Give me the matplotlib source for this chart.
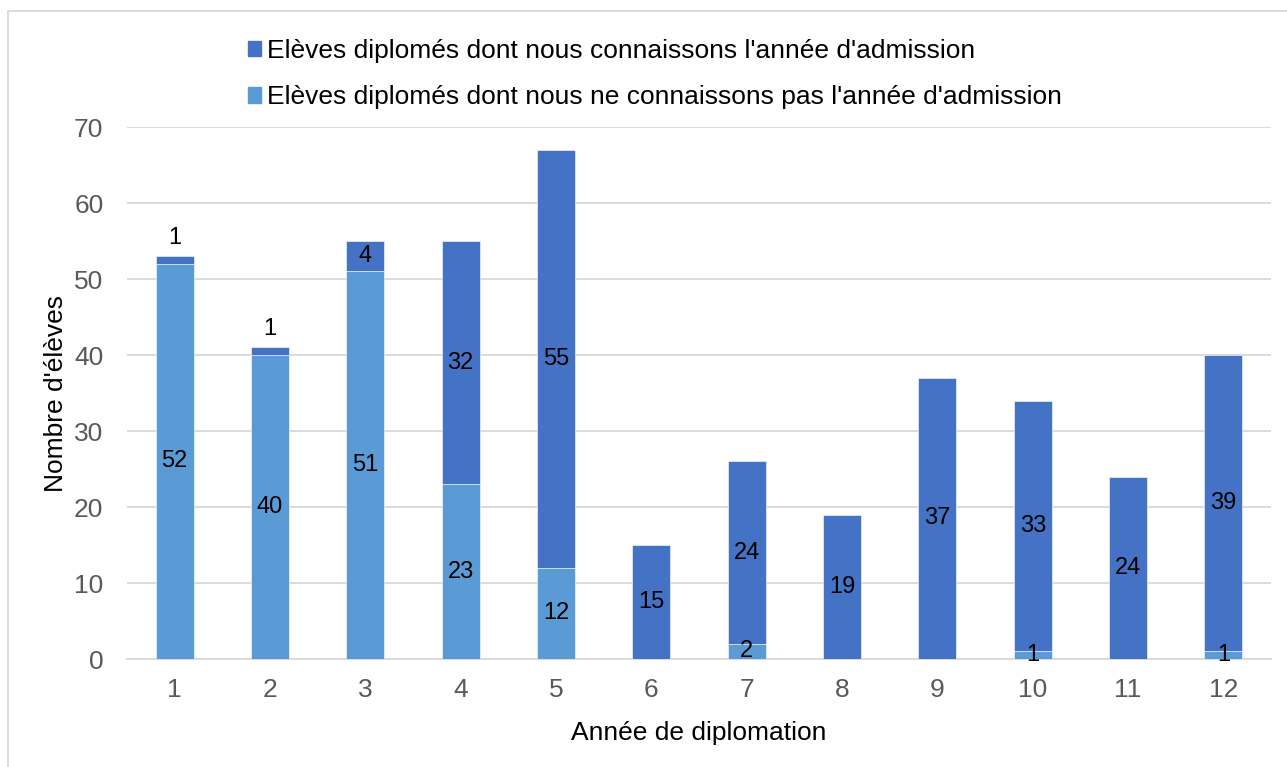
import matplotlib
matplotlib.use("Agg")
import matplotlib.pyplot as plt
from matplotlib.patches import Patch, Rectangle
import numpy as np

# Données
annees = ["1", "2", "3", "4", "5", "6", "7", "8", "9", "10", "11", "12"]
inconnus = [52, 40, 51, 23, 12, 0, 2, 0, 0, 1, 0, 1]      # année d'admission inconnue
connus = [1, 1, 4, 32, 55, 15, 24, 19, 37, 33, 24, 39]     # année d'admission connue
lbl_connus = "Elèves diplomés dont nous connaissons l'année d'admission"
lbl_inconnus = "Elèves diplomés dont nous ne connaissons pas l'année d'admission"

plt.rcParams['font.family'] = ['Liberation Sans', 'DejaVu Sans']

c_clair = '#5B9BD5'
c_fonce = '#4472C4'
fs = 19

fig = plt.figure(figsize=(12.87, 7.67), dpi=100)
ax = fig.add_axes([0.0987, 0.1408, 0.8889, 0.6936])

x = np.arange(len(annees))
ax.bar(x, inconnus, width=0.4, color=c_clair, edgecolor='white', linewidth=0.4, zorder=3)
ax.bar(x, connus, width=0.4, bottom=inconnus, color=c_fonce, edgecolor='white', linewidth=0.4, zorder=3)

# Étiquettes de données
for i in range(len(annees)):
    if inconnus[i] > 0:
        ax.text(x[i], inconnus[i] / 2, str(inconnus[i]), ha='center', va='center',
                fontsize=17, color='black', zorder=4)
    if connus[i] > 0:
        if connus[i] < 2:
            # étiquette déplacée au-dessus de la barre
            y = inconnus[i] + connus[i] + 2.4
        else:
            y = inconnus[i] + connus[i] / 2
        ax.text(x[i], y, str(connus[i]), ha='center', va='center',
                fontsize=17, color='black', zorder=4)

ax.set_xlim(-0.5, len(annees) - 0.5)
ax.set_ylim(0, 70)
ax.set_yticks(np.arange(0, 71, 10))
ax.set_xticks(x)
ax.set_xticklabels(annees)
ax.tick_params(axis='both', length=0, labelsize=fs, labelcolor='#595959')
ax.tick_params(axis='x', pad=14)
ax.tick_params(axis='y', pad=17)
ax.grid(axis='y', color='#D9D9D9', linewidth=1.3, zorder=0)
ax.set_axisbelow(True)
for s in ['top', 'right', 'left']:
    ax.spines[s].set_visible(False)
ax.spines['bottom'].set_color('#D9D9D9')
ax.spines['bottom'].set_linewidth(1.3)

ax.set_xlabel("Année de diplomation", fontsize=fs, labelpad=13)
ax.set_ylabel("Nombre d'élèves", fontsize=fs, labelpad=4)

handles = [Patch(color=c_fonce), Patch(color=c_clair)]
fig.legend(handles, [lbl_connus, lbl_inconnus], loc='upper left',
           bbox_to_anchor=(0.1845, 0.963), frameon=False, fontsize=fs,
           handlelength=0.5, handleheight=0.5, handletextpad=0.23,
           labelspacing=0.85, borderaxespad=0)

# Cadre du graphique
fig.patches.append(Rectangle((8 / 1287, -0.01), 1.0, 1 - 11 / 767 + 0.01,
                             transform=fig.transFigure, fill=False,
                             edgecolor='#D9D9D9', linewidth=1.3))

plt.savefig("out.png", dpi=100)
